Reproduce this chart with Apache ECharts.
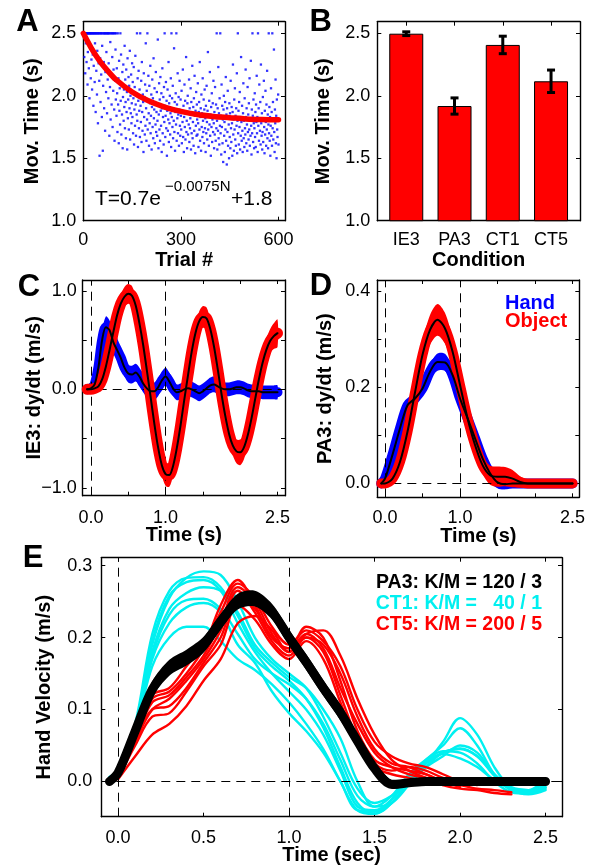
<!DOCTYPE html>
<html><head><meta charset="utf-8">
<script src="https://cdn.jsdelivr.net/npm/echarts@6/dist/echarts.min.js"></script>
<style>html,body{margin:0;padding:0;background:#fff}#c{width:591px;height:865px}</style>
</head><body><div id="c"></div>
<script>
// ---------- Panel A: movement time per trial ----------
const aTimes = [
2.5,2.5,2.31,2.5,2.5,2.18,2.5,2.42,2.5,2.27,2.5,2.5,2.09,2.35,2.5,2.5,2.22,2.5,1.98,2.5,2.38,2.5,2.14,2.5,2.29,
2.5,2.05,2.5,2.33,2.5,1.92,2.24,2.5,2.5,2.11,2.42,2.5,1.87,2.5,2.2,2.5,2.01,2.36,2.5,1.78,2.5,2.26,2.5,2.12,1.52,
2.5,2.3,1.95,2.5,2.17,2.5,1.83,2.4,2.5,1.56,2.08,2.5,2.27,1.9,2.5,2.5,1.72,2.19,2.5,2.03,2.35,2.5,1.86,2.5,2.13,
2.5,1.98,2.26,2.5,1.68,2.5,2.07,2.43,1.81,2.5,2.16,1.93,2.5,2.31,1.75,2.5,2.04,2.21,2.5,1.89,1.64,2.5,2.12,2.37,1.97,
2.5,1.84,2.22,2.02,1.71,2.5,1.93,2.14,1.62,2.28,1.88,2.06,1.77,2.5,1.96,2.33,1.69,2.1,1.85,2.19,1.58,1.99,2.25,1.8,2.05,
1.91,2.4,1.74,2.13,1.95,1.66,2.21,1.87,2.03,1.57,2.3,1.82,1.97,2.15,1.73,2.08,1.9,2.36,1.65,2.0,1.86,2.17,1.78,1.94,2.26,
1.83,2.11,1.7,1.98,2.23,1.61,1.89,2.07,1.76,2.32,1.93,1.68,2.02,1.85,2.5,1.8,2.14,1.59,1.96,2.2,1.74,1.88,2.05,1.67,2.5,
1.92,1.79,2.12,1.63,2.27,1.87,1.72,2.01,1.95,1.55,2.18,1.83,1.99,1.69,2.09,1.76,2.42,1.9,1.64,2.04,1.81,2.5,1.73,1.97,2.16,
1.86,1.6,2.08,1.78,1.94,2.24,1.7,1.84,2.01,1.57,1.91,2.13,1.75,1.98,1.66,2.3,1.82,1.89,2.06,1.62,1.95,1.77,2.19,1.71,1.87,
2.03,1.68,1.8,2.45,1.93,1.58,1.85,2.1,1.73,1.97,1.64,2.15,1.88,1.76,2.02,1.55,1.9,2.22,1.7,1.83,1.99,1.61,2.07,1.79,2.5,
1.92,1.67,1.84,2.11,1.74,1.96,1.52,1.88,2.05,1.72,1.81,2.27,1.63,1.94,1.78,2.0,1.69,1.86,2.14,1.59,2.5,1.83,1.98,1.75,2.08,
1.66,1.9,1.8,2.38,1.71,1.95,1.56,1.87,2.02,1.77,2.5,1.64,1.93,1.82,2.18,1.7,1.85,1.99,1.6,1.89,2.12,1.76,1.68,1.97,1.84,
1.73,2.04,1.62,1.88,1.79,2.21,1.67,1.92,1.55,1.83,2.09,1.75,1.96,1.65,1.86,2.31,1.71,1.8,1.58,1.94,2.0,1.69,1.87,1.77,2.13,
1.63,1.9,1.74,1.82,2.06,1.57,1.95,1.7,1.85,2.24,1.66,1.79,1.91,1.6,1.98,1.72,2.16,1.84,1.54,1.88,1.76,2.03,1.68,1.93,1.81,
1.69,2.1,1.78,1.59,1.87,1.95,1.73,2.27,1.64,1.83,1.9,1.56,2.01,1.75,1.86,1.67,2.14,1.8,1.71,1.97,1.62,1.89,2.05,1.74,1.82,
1.55,1.92,1.7,2.08,1.79,1.65,1.88,2.35,1.73,1.84,1.6,1.96,1.77,2.19,1.68,1.85,1.52,1.91,1.75,2.02,1.63,1.81,1.94,1.71,2.12,
1.78,1.58,1.87,1.69,2.07,1.83,1.64,1.93,1.74,2.5,1.8,1.57,1.9,1.72,2.23,1.66,1.86,1.61,1.98,1.76,2.5,1.7,1.84,1.53,2.09,
1.75,1.92,1.62,1.81,1.47,1.89,2.0,1.68,1.79,1.55,1.95,1.73,2.15,1.64,1.85,1.45,1.9,1.71,2.04,1.6,1.82,1.77,1.5,1.94,1.67,
1.86,1.58,2.12,1.74,1.63,1.91,1.78,1.52,1.87,2.25,1.69,1.81,1.56,1.97,1.73,2.06,1.65,1.84,1.6,1.9,1.76,2.18,1.54,1.8,2.5,
1.7,1.88,1.61,1.95,1.75,2.03,1.57,1.83,1.68,2.31,1.79,1.64,1.92,1.72,1.55,1.86,2.1,1.66,1.8,1.59,1.98,1.74,1.69,2.21,1.83,
1.62,1.9,1.77,1.56,2.07,1.71,1.85,1.65,1.94,1.73,2.14,1.6,1.81,1.68,2.28,1.76,1.53,1.89,1.7,2.5,1.84,1.63,1.97,1.78,1.58,
1.74,2.02,1.67,1.87,1.59,1.93,1.79,2.16,1.7,1.83,1.55,2.5,1.76,1.9,1.64,2.09,1.81,1.72,1.95,1.61,2.25,1.78,1.68,1.86,1.57,
1.71,1.99,1.63,1.82,2.12,1.75,1.54,1.88,1.69,2.04,1.79,1.6,1.93,1.73,2.2,1.66,1.85,1.58,1.77,2.5,1.7,1.91,1.64,1.83,1.52,
1.76,2.06,1.68,1.87,1.6,2.5,1.74,1.95,1.65,1.82,2.37,1.71,1.55,1.89,1.78,2.13,1.62,1.84,1.5,1.97,1.73,1.67,1.8,2.01,1.61];
const aFitTrial = [0,25,50,75,100,150,200,250,300,350,400,450,500,550,600];
const aFitTime  = [2.5,2.38,2.28,2.2,2.13,2.03,1.96,1.91,1.875,1.85,1.835,1.825,1.815,1.81,1.808];
const aYTicks = ['1.0','1.5','2.0','2.5'];

// ---------- Panel B: mean movement time per condition ----------
const bConditions = ['IE3','PA3','CT1','CT5'];
const bMeans = [2.497,1.918,2.407,2.116];
const bErrs  = [0.015,0.065,0.07,0.09];

// ---------- Panel C: IE3 velocity ----------
const cTime = [-0.05,0,0.05,0.1,0.15,0.2,0.25,0.3,0.35,0.4,0.45,0.5,0.55,0.6,0.65,0.7,0.75,0.8,0.85,0.9,0.95,1.0,1.05,1.1,1.15,1.2,1.25,1.3,1.35,1.4,1.45,1.5,1.55,1.6,1.65,1.7,1.75,1.8,1.85,1.9,1.95,2.0,2.05,2.1,2.15,2.2,2.25,2.3,2.35,2.4,2.45,2.5];
const cHand = [0.0,0.01,0.05,0.22,0.50,0.63,0.60,0.48,0.40,0.32,0.22,0.16,0.15,0.17,0.13,0.06,0.01,-0.02,-0.02,0.02,0.09,0.13,0.08,0.01,-0.03,-0.02,0.0,0.01,0.0,-0.02,-0.04,-0.02,0.01,0.04,0.05,0.03,0.01,0.0,0.0,0.01,0.02,0.02,0.01,-0.01,-0.02,-0.02,-0.02,-0.03,-0.03,-0.03,-0.03,-0.03];
const cHandSd = [0,0.01,0.03,0.06,0.09,0.11,0.1,0.1,0.09,0.09,0.09,0.09,0.09,0.09,0.09,0.09,0.09,0.09,0.09,0.09,0.09,0.09,0.09,0.08,0.08,0.08,0.08,0.08,0.08,0.08,0.08,0.08,0.08,0.08,0.08,0.08,0.08,0.07,0.07,0.07,0.07,0.07,0.07,0.07,0.07,0.07,0.07,0.07,0.07,0.07,0.07,0.07];
const cObject = [0.0,0.0,0.01,0.03,0.10,0.23,0.40,0.58,0.75,0.87,0.94,0.97,0.95,0.85,0.67,0.45,0.19,-0.08,-0.35,-0.59,-0.77,-0.86,-0.87,-0.78,-0.60,-0.37,-0.11,0.14,0.38,0.57,0.69,0.735,0.72,0.61,0.43,0.20,-0.05,-0.27,-0.45,-0.57,-0.63,-0.64,-0.59,-0.47,-0.30,-0.10,0.10,0.27,0.40,0.49,0.54,0.57];
const cObjectSd = [0,0,0.005,0.01,0.02,0.04,0.06,0.07,0.08,0.09,0.1,0.1,0.1,0.09,0.07,0.06,0.06,0.06,0.06,0.08,0.1,0.12,0.12,0.1,0.08,0.06,0.06,0.06,0.06,0.08,0.1,0.11,0.11,0.09,0.07,0.06,0.06,0.06,0.08,0.1,0.12,0.13,0.12,0.1,0.08,0.07,0.08,0.1,0.11,0.12,0.13,0.14];

// ---------- Panel D: PA3 velocity ----------
const dTime = [-0.05,0,0.1,0.2,0.3,0.4,0.5,0.6,0.7,0.8,0.9,1.0,1.1,1.2,1.3,1.4,1.5,1.6,1.7,1.8,1.9,2.0,2.1,2.2,2.3,2.4,2.5];
const dHand = [0.0,0.01,0.06,0.115,0.163,0.177,0.198,0.233,0.253,0.252,0.226,0.177,0.136,0.094,0.052,0.021,0.002,-0.002,0,0,0,0,0,0,0,0,0];
const dHandSd = [0.003,0.005,0.01,0.014,0.012,0.012,0.013,0.016,0.018,0.018,0.016,0.016,0.017,0.017,0.015,0.012,0.012,0.01,0.004,0.002,0.002,0.002,0.001,0.001,0.001,0.001,0.001];
const dObject = [0.0,0.0,0.01,0.045,0.108,0.19,0.268,0.32,0.341,0.323,0.275,0.205,0.136,0.08,0.038,0.017,0.014,0.014,0.01,0.003,0,0,0,0,0,0,0];
const dObjectSd = [0.002,0.003,0.006,0.012,0.018,0.023,0.028,0.031,0.033,0.032,0.028,0.024,0.021,0.019,0.018,0.02,0.021,0.02,0.018,0.012,0.008,0.005,0.004,0.004,0.004,0.004,0.004];

// ---------- Panel E: hand velocity, PA3 mean vs CT1 / CT5 trials ----------
const eTime = [-0.05,0,0.1,0.2,0.3,0.4,0.5,0.6,0.7,0.8,0.9,1.0,1.1,1.2,1.3,1.4,1.5,1.6,1.7,1.8,1.9,2.0,2.1,2.2,2.3,2.4,2.5];
const ePA3 = [0.0,0.012,0.07,0.128,0.158,0.172,0.19,0.222,0.25,0.254,0.236,0.2,0.166,0.13,0.096,0.056,0.018,-0.004,-0.002,0,0,0,0,0,0,0,0];
const ePA3Sd = [0.0,0.003,0.007,0.011,0.011,0.011,0.011,0.011,0.011,0.011,0.011,0.011,0.011,0.011,0.011,0.01,0.008,0.006,0.004,0.003,0.003,0.003,0.003,0.003,0.003,0.003,0.003];
const eCT1 = [
 [0.005,0.015,0.075,0.19,0.255,0.283,0.292,0.287,0.25,0.2,0.17,0.15,0.13,0.09,0.04,-0.01,-0.03,-0.02,0.0,0.02,0.035,0.05,0.04,0.01,-0.01,-0.015,-0.005],
 [0.006,0.016,0.08,0.205,0.265,0.283,0.284,0.27,0.23,0.185,0.16,0.14,0.115,0.075,0.02,-0.03,-0.045,-0.03,0.0,0.025,0.055,0.088,0.065,0.02,-0.01,-0.018,-0.012],
 [0.004,0.014,0.072,0.195,0.258,0.277,0.28,0.265,0.22,0.18,0.15,0.125,0.1,0.065,0.015,-0.035,-0.04,-0.025,0.005,0.03,0.05,0.074,0.05,0.01,-0.012,-0.016,-0.008],
 [0.005,0.015,0.07,0.18,0.24,0.262,0.27,0.265,0.235,0.19,0.165,0.145,0.13,0.1,0.06,0.0,-0.035,-0.03,-0.005,0.02,0.04,0.045,0.035,0.01,-0.008,-0.012,-0.002],
 [0.005,0.014,0.07,0.175,0.232,0.252,0.254,0.24,0.205,0.17,0.15,0.135,0.115,0.08,0.03,-0.02,-0.035,-0.02,0.01,0.03,0.042,0.04,0.025,0.0,-0.015,-0.017,-0.01],
 [0.006,0.016,0.072,0.17,0.22,0.242,0.248,0.235,0.19,0.165,0.125,0.095,0.07,0.04,0.0,-0.04,-0.042,-0.025,0.005,0.028,0.038,0.032,0.02,0.002,-0.01,-0.012,0.004],
 [0.005,0.015,0.07,0.16,0.2,0.215,0.215,0.195,0.17,0.155,0.135,0.11,0.08,0.045,0.0,-0.04,-0.045,-0.03,0.0,0.025,0.04,0.046,0.035,0.008,-0.012,-0.015,-0.008]];
const eCT5 = [
 [null,0.005,0.06,0.115,0.125,0.15,0.185,0.245,0.28,0.245,0.2,0.185,0.215,0.2,0.14,0.07,0.03,0.02,0.015,0.01,0.0,-0.005,-0.01,-0.012,-0.015,null,null],
 [null,0.005,0.065,0.12,0.13,0.16,0.19,0.235,0.275,0.255,0.215,0.19,0.21,0.195,0.16,0.1,0.055,0.035,0.025,0.02,0.01,0.0,-0.005,null,null,null,null],
 [null,0.004,0.058,0.11,0.12,0.145,0.175,0.22,0.27,0.25,0.205,0.18,0.205,0.21,0.175,0.115,0.065,0.03,0.015,0.005,-0.005,-0.01,-0.012,-0.016,-0.018,null,null],
 [null,0.005,0.055,0.1,0.115,0.14,0.17,0.21,0.265,0.235,0.195,0.175,0.2,0.18,0.12,0.06,0.025,0.015,0.02,0.015,0.005,0.0,null,null,null,null,null],
 [null,0.004,0.06,0.1,0.105,0.13,0.165,0.2,0.255,0.24,0.2,0.185,0.205,0.185,0.13,0.08,0.04,0.02,0.01,0.005,0.0,null,null,null,null,null,null],
 [null,0.004,0.05,0.09,0.095,0.125,0.16,0.19,0.245,0.225,0.19,0.17,0.195,0.17,0.11,0.05,0.02,0.01,0.005,0.0,-0.005,null,null,null,null,null,null],
 [null,0.003,0.035,0.065,0.08,0.105,0.14,0.17,0.22,0.23,0.21,0.18,0.2,0.19,0.15,0.09,0.045,0.025,0.02,0.01,0.0,-0.008,null,null,null,null,null]];
const eLegend = ['PA3: K/M = 120 / 3','CT1: K/M =   40 / 1','CT5: K/M = 200 / 5'];

// ---------- styling ----------
const FONT = '"Liberation Sans", Arial, Helvetica, sans-serif';
const RED = '#ff0000', BLUE = '#0000ff', CYAN = '#00f0f0', BLACK = '#000000';
const tickFont = {fontFamily: FONT, fontSize: 18, color: '#000'};
const nameFont = {fontFamily: FONT, fontSize: 20, fontWeight: 'bold', color: '#000'};
const near = (a, b) => Math.abs(a - b) < 1e-6;

const grids = [
  {left: 83.3, top: 21.7, width: 201.7, height: 199},
  {left: 377.3, top: 21.7, width: 202.7, height: 199},
  {left: 82.7, top: 280, width: 202.3, height: 215.7},
  {left: 377.3, top: 280, width: 202, height: 217.3},
  {left: 101.3, top: 557.7, width: 460.7, height: 259}
].map(g => Object.assign({outerBoundsMode: 'none', containLabel: false, show: false}, g));

const xAxes = [], yAxes = [];
function axisBase(g, c) {
  const o = {type: 'value', gridIndex: g, min: c.min, max: c.max, splitLine: {show: false},
    axisLine: {show: true, onZero: false, lineStyle: {color: '#000', width: 1.4}},
    axisTick: {show: true, inside: true, length: 4, lineStyle: {color: '#000', width: 1}}};
  if (c.interval) o.interval = c.interval;
  return o;
}
function addX(g, c) {
  xAxes.push(Object.assign(axisBase(g, c), {position: 'bottom', name: c.name, nameLocation: 'middle',
    nameGap: c.nameGap, nameMoveOverlap: false, nameTextStyle: nameFont,
    axisLabel: Object.assign({show: true, margin: c.margin, formatter: c.fmt,
      showMinLabel: !!c.showMin, showMaxLabel: false}, tickFont)}));
  xAxes.push(Object.assign(axisBase(g, c), {position: 'top', axisLabel: {show: false}}));
}
function addY(g, c) {
  yAxes.push(Object.assign(axisBase(g, c), {position: 'left', name: c.name, nameLocation: 'middle',
    nameGap: c.nameGap, nameMoveOverlap: false, nameTextStyle: nameFont, nameRotate: 90,
    axisLabel: Object.assign({show: true, margin: c.margin, formatter: c.fmt,
      showMinLabel: !!c.showMin, showMaxLabel: false}, tickFont)}));
  yAxes.push(Object.assign(axisBase(g, c), {position: 'right', axisLabel: {show: false}}));
}
const fmtPick = (list) => (v) => { for (const [k, s] of list) if (near(v, k)) return s; return ''; };

// A
addX(0, {min: 0, max: 620, interval: 300, name: 'Trial #', nameGap: 30, margin: 10, showMin: true, fmt: (v) => String(v)});
addY(0, {min: 1.0, max: 2.593, interval: 0.5, name: 'Mov. Time (s)', nameGap: 41, margin: 7, showMin: true,
  fmt: fmtPick([[1, aYTicks[0]], [1.5, aYTicks[1]], [2, aYTicks[2]], [2.5, aYTicks[3]]])});
// B
addX(1, {min: 0.4, max: 4.6, name: 'Condition', nameGap: 30, margin: 10,
  fmt: fmtPick(bConditions.map((c, i) => [i + 1, c]))});
addY(1, {min: 1.0, max: 2.593, interval: 0.5, name: 'Mov. Time (s)', nameGap: 44, margin: 7, showMin: true,
  fmt: fmtPick([[1, aYTicks[0]], [1.5, aYTicks[1]], [2, aYTicks[2]], [2.5, aYTicks[3]]])});
// C
const tFmt = fmtPick([[0, '0.0'], [1, '1.0'], [2.5, '2.5']]);
addX(2, {min: -0.11, max: 2.6, name: 'Time (s)', nameGap: 30, margin: 13, fmt: tFmt});
addY(2, {min: -1.08, max: 1.11, name: 'IE3: dy/dt (m/s)', nameGap: 38, margin: 6,
  fmt: fmtPick([[-1, '\u22121.0'], [0, '0.0'], [1, '1.0']])});
// D
addX(3, {min: -0.103, max: 2.59, name: 'Time (s)', nameGap: 29, margin: 12, fmt: tFmt});
addY(3, {min: -0.029, max: 0.424, name: 'PA3: dy/dt (m/s)', nameGap: 42, margin: 7,
  fmt: fmtPick([[0, '0.0'], [0.2, '0.2'], [0.4, '0.4']])});
// E
addX(4, {min: -0.098, max: 2.596, name: 'Time (sec)', nameGap: 29, margin: 12, fmt: (v) => v.toFixed(1)});
addY(4, {min: -0.049, max: 0.311, name: 'Hand Velocity (m/s)', nameGap: 47, margin: 9, fmt: (v) => v.toFixed(1)});

const series = [];
const ax = (g) => ({xAxisIndex: 2 * g, yAxisIndex: 2 * g});
const pairs = (t, m) => t.map((v, i) => [v, m[i]]);

function refLines(g) {
  series.push(Object.assign({type: 'line', data: [[0, 0]], symbol: 'none', z: 1, silent: true,
    lineStyle: {opacity: 0},
    markLine: {symbol: ['none', 'none'], silent: true, label: {show: false}, animation: false,
      lineStyle: {color: '#000', width: 1, type: [9, 6]},
      data: [{xAxis: 0}, {xAxis: 1}, {yAxis: 0}]}}, ax(g)));
}
function band(g, t, m, s, color, z) {
  series.push(Object.assign({type: 'custom', clip: true, silent: true, z: z, data: [[0, 0]],
    renderItem: function (params, api) {
      const up = [], lo = [];
      for (let i = 0; i < t.length; i++) {
        if (m[i] == null) continue;
        up.push(api.coord([t[i], m[i] + s[i]]));
        lo.push(api.coord([t[i], m[i] - s[i]]));
      }
      return {type: 'polygon', shape: {points: up.concat(lo.reverse()), smooth: 0.3},
        style: {fill: color, stroke: null}};
    }}, ax(g)));
}
function curve(g, t, m, color, width, z, smooth) {
  series.push(Object.assign({type: 'line', data: pairs(t, m), symbol: 'none', showSymbol: false,
    smooth: smooth == null ? 0.3 : smooth, connectNulls: false, z: z, silent: true,
    lineStyle: {color: color, width: width, cap: 'round', join: 'round'}}, ax(g)));
}

// A
series.push(Object.assign({type: 'scatter', data: aTimes.map((v, i) => [i + 1, v]), symbol: 'rect',
  symbolSize: 2.3, itemStyle: {color: BLUE}, z: 2, silent: true}, ax(0)));
curve(0, aFitTrial, aFitTime, RED, 5.5, 3, 0.3);

// B
series.push(Object.assign({type: 'bar', data: bMeans.map((v, i) => [i + 1, v]), barWidth: 34,
  itemStyle: {color: RED, borderColor: '#000', borderWidth: 1}, z: 2, silent: true}, ax(1)));
series.push(Object.assign({type: 'custom', z: 3, silent: true,
  data: bMeans.map((v, i) => [i + 1, v - bErrs[i], v + bErrs[i]]),
  encode: {x: 0, y: [1, 2]},
  renderItem: function (params, api) {
    const x = api.value(0), lo = api.coord([x, api.value(1)]), hi = api.coord([x, api.value(2)]);
    const st = {stroke: '#000', lineWidth: 3}, cap = 4;
    return {type: 'group', children: [
      {type: 'line', shape: {x1: lo[0], y1: lo[1], x2: hi[0], y2: hi[1]}, style: st},
      {type: 'line', shape: {x1: lo[0] - cap, y1: lo[1], x2: lo[0] + cap, y2: lo[1]}, style: st},
      {type: 'line', shape: {x1: hi[0] - cap, y1: hi[1], x2: hi[0] + cap, y2: hi[1]}, style: st}]};
  }}, ax(1)));

// C
refLines(2);
band(2, cTime, cHand, cHandSd, BLUE, 2);
curve(2, cTime, cHand, BLUE, 10, 3);
band(2, cTime, cObject, cObjectSd, RED, 4);
curve(2, cTime, cObject, RED, 11, 5);
curve(2, cTime, cHand, BLACK, 2, 6);
curve(2, cTime, cObject, BLACK, 2, 6);

// D
refLines(3);
band(3, dTime, dHand, dHandSd, BLUE, 2);
curve(3, dTime, dHand, BLUE, 10, 3);
band(3, dTime, dObject, dObjectSd, RED, 4);
curve(3, dTime, dObject, RED, 10, 5);
curve(3, dTime, dHand, BLACK, 2, 6);
curve(3, dTime, dObject, BLACK, 2, 6);

// E
refLines(4);
eCT1.forEach(c => curve(4, eTime, c, CYAN, 2.4, 2, 0.35));
eCT5.forEach(c => curve(4, eTime, c, RED, 2.4, 3, 0.35));
band(4, eTime, ePA3, ePA3Sd, BLACK, 4);
curve(4, eTime, ePA3, BLACK, 9, 5, 0.3);

function txt(x, y, s, font, color, align) {
  return {type: 'text', x: x, y: y, silent: true, z: 100,
    style: {text: s, font: font, fill: color, textAlign: align || 'left', align: align || 'left',
      textVerticalAlign: 'middle', verticalAlign: 'middle'}};
}
const LF = 'bold 31px ' + FONT;
const graphic = [
  txt(27.5, 22.7, 'A', LF, '#000', 'center'),
  txt(320.8, 22.7, 'B', LF, '#000', 'center'),
  txt(29, 287, 'C', LF, '#000', 'center'),
  txt(321, 286, 'D', LF, '#000', 'center'),
  txt(33, 558, 'E', LF, '#000', 'center'),
  txt(95, 199, 'T=0.7e', '21px ' + FONT, '#000'),
  txt(165, 187, '\u22120.0075N', '15px ' + FONT, '#000'),
  txt(231, 199, '+1.8', '21px ' + FONT, '#000'),
  txt(505, 303, 'Hand', 'bold 20px ' + FONT, BLUE),
  txt(505, 321, 'Object', 'bold 20px ' + FONT, RED),
  txt(542, 582.7, eLegend[0], 'bold 19.5px ' + FONT, BLACK, 'right'),
  txt(542, 603.7, eLegend[1], 'bold 19.5px ' + FONT, CYAN, 'right'),
  txt(542, 625, eLegend[2], 'bold 19.5px ' + FONT, RED, 'right')
];

const chart = echarts.init(document.getElementById('c'), null, {renderer: 'canvas'});
chart.setOption({
  animation: false,
  backgroundColor: '#fff',
  textStyle: {fontFamily: FONT},
  grid: grids,
  xAxis: xAxes,
  yAxis: yAxes,
  series: series,
  graphic: graphic
});
</script>
</body></html>
